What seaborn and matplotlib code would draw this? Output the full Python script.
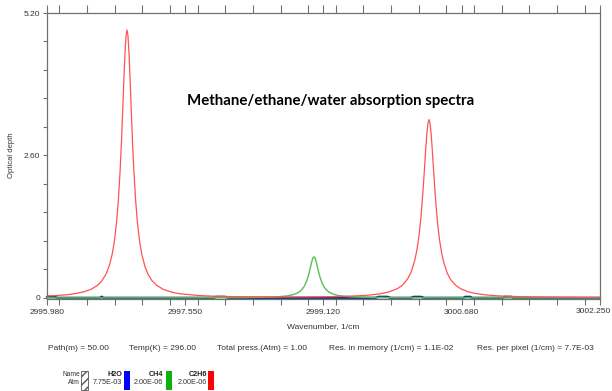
import matplotlib
matplotlib.use("Agg")
import numpy as np
import pandas as pd
import matplotlib.pyplot as plt
import seaborn as sns
from matplotlib.patches import Rectangle
from matplotlib.ticker import FixedLocator, MultipleLocator

# ---------------- data ----------------
c2h6_wn = [2995.98, 2996.05, 2996.2, 2996.3, 2996.4, 2996.48, 2996.55, 2996.6,
           2996.65, 2996.69, 2996.72, 2996.745, 2996.77, 2996.79, 2996.81, 2996.825,
           2996.84, 2996.853, 2996.865, 2996.876, 2996.887, 2996.898, 2996.91,
           2996.922, 2996.935, 2996.95, 2996.965, 2996.985, 2997.005, 2997.03,
           2997.055, 2997.09, 2997.125, 2997.17, 2997.225, 2997.3, 2997.4, 2997.5,
           2997.7, 2997.85, 2998.0, 2998.2, 2998.4, 2998.6, 2998.8, 2999.0, 2999.2,
           2999.35, 2999.5, 2999.62, 2999.75, 2999.85, 2999.95, 3000.01, 3000.07,
           3000.11, 3000.15, 3000.175, 3000.2, 3000.22, 3000.24, 3000.255, 3000.27,
           3000.28, 3000.29, 3000.30, 3000.311, 3000.322, 3000.335, 3000.347,
           3000.36, 3000.374, 3000.39, 3000.41, 3000.43, 3000.455, 3000.48, 3000.52,
           3000.56, 3000.62, 3000.68, 3000.76, 3000.85, 3000.97, 3001.1, 3001.25,
           3001.4, 3001.6, 3001.8, 3002.0, 3002.25]
c2h6_od = [0.034, 0.039, 0.057, 0.078, 0.112, 0.158, 0.226, 0.306,
           0.436, 0.606, 0.805, 1.046, 1.399, 1.801, 2.35, 2.873,
           3.486, 4.038, 4.495, 4.784, 4.892, 4.784, 4.461,
           3.996, 3.444, 2.835, 2.318, 1.776, 1.382, 1.033,
           0.797, 0.576, 0.433, 0.315, 0.227, 0.155, 0.102, 0.073,
           0.044, 0.032, 0.026, 0.0205, 0.018, 0.0167, 0.017, 0.019, 0.023,
           0.0285, 0.038, 0.0498, 0.073, 0.105, 0.166, 0.232, 0.347,
           0.476, 0.685, 0.884, 1.168, 1.478, 1.879, 2.235, 2.614,
           2.852, 3.056, 3.194, 3.254, 3.194, 3.002, 2.735,
           2.412, 2.062, 1.707, 1.341, 1.065, 0.813, 0.634, 0.445,
           0.327, 0.221, 0.158, 0.109, 0.077, 0.052, 0.037, 0.027,
           0.020, 0.015, 0.011, 0.009, 0.007]

ch4_wn = [2995.98, 2997.5, 2998.2, 2998.5, 2998.6, 2998.7, 2998.75, 2998.8,
          2998.84, 2998.87, 2998.895, 2998.92, 2998.94, 2998.96, 2998.985,
          2998.997, 2999.007, 2999.017, 2999.03, 2999.055, 2999.075, 2999.095,
          2999.12, 2999.145, 2999.175, 2999.215, 2999.265, 2999.315, 2999.41,
          2999.515, 2999.7, 2999.9, 3000.8, 3002.25]
ch4_od = [0.0, 0.002, 0.0055, 0.014, 0.021, 0.036, 0.050, 0.075,
          0.109, 0.152, 0.206, 0.29, 0.386, 0.512, 0.681,
          0.735, 0.75, 0.735, 0.676, 0.505, 0.381, 0.287,
          0.204, 0.15, 0.108, 0.075, 0.050, 0.036, 0.021,
          0.014, 0.0074, 0.004, 0.001, 0.0]

h2o_wn = [2995.98, 2996.06, 2996.1, 2996.58, 2996.6, 2996.62, 2997.86, 2997.9,
          2998.0, 2998.04, 2999.7, 2999.74, 2999.84, 2999.88, 3000.1, 3000.14,
          3000.22, 3000.26, 3000.7, 3000.72, 3000.78, 3000.8, 3001.15, 3001.17,
          3001.25, 3001.27, 3002.25]
h2o_od = [0.018, 0.018, 0.0, 0.0, 0.02, 0.0, 0.0, 0.018,
          0.018, 0.0, 0.0, 0.018, 0.018, 0.0, 0.0, 0.018,
          0.018, 0.0, 0.0, 0.018, 0.018, 0.0, 0.0, 0.018,
          0.018, 0.0, 0.0]

xtick_vals = [2995.98, 2997.5475, 2999.115, 3000.6825, 3002.25]
xtick_labels = ["2995.980", "2997.550", "2999.120", "3000.680", "3002.250"]
ytick_vals = [0.0, 2.6, 5.2]
ytick_labels = ["0", "2.60", "5.20"]

title = "Methane/ethane/water absorption spectra"
params = ["Path(m) = 50.00", "Temp(K) = 296.00", "Total press.(Atm) = 1.00",
          "Res. in memory (1/cm) = 1.1E-02", "Res. per pixel (1/cm) = 7.7E-03"]
species = ["H2O", "CH4", "C2H6"]
species_atm = ["7.75E-03", "2.00E-06", "2.00E-06"]
species_colors = ["#0000ff", "#10b010", "#ff0000"]

# ---------------- figure ----------------
sns.set_theme(style="white")
plt.rcParams["font.family"] = ["Liberation Sans", "DejaVu Sans"]

W, H = 612, 391
fig = plt.figure(figsize=(W / 100, H / 100), dpi=100)
fig.patch.set_facecolor("white")

def fx(px):
    return px / W

def fy(py):
    return 1 - py / H

ax = fig.add_axes([fx(47), fy(299), fx(600) - fx(47), fy(13) - fy(299)])
ax.set_facecolor("white")

df_h2o = pd.DataFrame({"wn": h2o_wn, "od": h2o_od})
df_ch4 = pd.DataFrame({"wn": ch4_wn, "od": ch4_od})
df_c2h6 = pd.DataFrame({"wn": c2h6_wn, "od": c2h6_od})

sns.lineplot(data=df_h2o, x="wn", y="od", ax=ax, color="#1a3d8a", lw=1.8,
             estimator=None, sort=False, clip_on=False, zorder=2)
sns.lineplot(data=df_ch4, x="wn", y="od", ax=ax, color="#55c055", lw=1.0,
             estimator=None, sort=False, clip_on=False, zorder=3)
sns.lineplot(data=df_c2h6, x="wn", y="od", ax=ax, color="#ff5252", lw=0.9,
             estimator=None, sort=False, clip_on=False, zorder=4)

ax.set_xlim(xtick_vals[0], xtick_vals[-1])
ax.set_ylim(-0.02, 5.2)

spine_col = "#707070"
for s in ["left", "right", "top", "bottom"]:
    ax.spines[s].set_visible(True)
    ax.spines[s].set_color(spine_col)
    ax.spines[s].set_linewidth(0.9)

ax.xaxis.set_major_locator(FixedLocator(xtick_vals))
# last label is placed by hand so that it stays inside the figure
ax.set_xticklabels(xtick_labels[:-1] + [""])
ax.xaxis.set_minor_locator(MultipleLocator((xtick_vals[1] - xtick_vals[0]) / 5))
ax.yaxis.set_major_locator(FixedLocator(ytick_vals))
ax.set_yticklabels(ytick_labels)
ax.yaxis.set_minor_locator(MultipleLocator(0.52))

ax.tick_params(axis="x", which="both", direction="out", bottom=True, top=True,
               length=4, width=0.8, color=spine_col, labelsize=6,
               labelcolor="#333333", pad=3, labeltop=False)
ax.tick_params(axis="y", which="both", direction="out", left=True, right=False,
               length=3, width=0.8, color=spine_col, labelsize=6,
               labelcolor="#333333", pad=2)

# longer ticks on the top edge
for t in ax.xaxis.get_major_ticks() + ax.xaxis.get_minor_ticks():
    t.tick2line.set_markersize(6)

fig.text(fx(611), fy(311.5), xtick_labels[-1], fontsize=6, color="#333333",
         ha="right", va="center")

ax.set_xlabel("Wavenumber, 1/cm", fontsize=6, color="#333333", labelpad=5)
ax.set_ylabel("")
fig.text(fx(12), fy(155), "Optical depth", rotation=90, fontsize=5.5,
         color="#333333", ha="center", va="center")

fig.text(fx(330.5), fy(101), title, fontsize=10.8, fontweight="bold",
         family=["Lato", "DejaVu Sans"], ha="center", va="center", color="black")

param_x = [48, 129, 217, 329, 477]
for px, t in zip(param_x, params):
    fig.text(fx(px), fy(349), t, fontsize=6, color="#333333", ha="left", va="center")

# legend box at bottom
fig.text(fx(80), fy(375), "Name", fontsize=4.8, color="#333333", ha="right", va="center")
fig.text(fx(80), fy(383), "Atm", fontsize=4.8, color="#333333", ha="right", va="center")
hb = Rectangle((fx(81), fy(390)), fx(88) - fx(81), fy(371) - fy(390),
               transform=fig.transFigure, facecolor="white", edgecolor="#555555",
               hatch="////", lw=0.6)
fig.add_artist(hb)

name_right = [122, 163, 207]
box_left = [124, 166, 208]
for nx, bx, nm, at, col in zip(name_right, box_left, species, species_atm, species_colors):
    fig.text(fx(nx), fy(375), nm, fontsize=5.2, fontweight="bold", color="#222222",
             ha="right", va="center")
    fig.text(fx(nx), fy(383), at, fontsize=5.2, color="#333333", ha="right", va="center")
    r = Rectangle((fx(bx), fy(390)), fx(bx + 6) - fx(bx), fy(371) - fy(390),
                  transform=fig.transFigure, facecolor=col, edgecolor="none")
    fig.add_artist(r)

fig.savefig("out.png", dpi=100, facecolor="white")
